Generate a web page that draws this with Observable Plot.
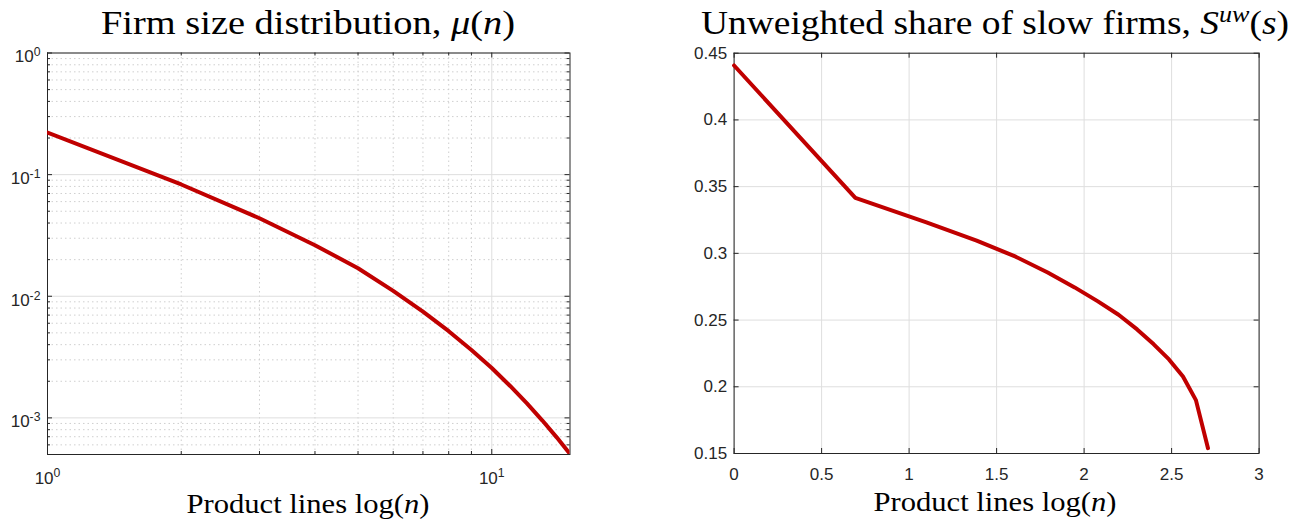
<!DOCTYPE html>
<html>
<head>
<meta charset="utf-8">
<script src="https://cdn.jsdelivr.net/npm/d3@7"></script>
<script src="https://cdn.jsdelivr.net/npm/@observablehq/plot@0.6"></script>
<style>
  html, body { margin: 0; padding: 0; background: #fff; }
  #wrap { position: relative; width: 1305px; height: 522px; overflow: hidden; background: #fff; }
  #wrap > div.panel { position: absolute; top: 0; }
  #labels { position: absolute; left: 0; top: 0; pointer-events: none; }
  .ttl { font-family: "Liberation Serif", "Times New Roman", serif; fill: #000; }
</style>
</head>
<body>
<div id="wrap">
  <div class="panel" id="left" style="left:0px"></div>
  <div class="panel" id="right" style="left:660px"></div>
  <svg id="labels" width="1305" height="522" xmlns="http://www.w3.org/2000/svg">
    <text class="ttl" x="308" y="34" text-anchor="middle" font-size="33" textLength="414" lengthAdjust="spacingAndGlyphs">Firm size distribution, <tspan font-style="italic">μ</tspan>(<tspan font-style="italic">n</tspan>)</text>
    <text class="ttl" x="995" y="34" text-anchor="middle" font-size="33" textLength="588" lengthAdjust="spacingAndGlyphs">Unweighted share of slow firms, <tspan font-style="italic">S</tspan><tspan font-style="italic" font-size="23" dy="-12">uw</tspan><tspan dy="12">(</tspan><tspan font-style="italic">s</tspan>)</text>
    <text class="ttl" x="308" y="513" text-anchor="middle" font-size="28" textLength="243" lengthAdjust="spacingAndGlyphs">Product lines log(<tspan font-style="italic">n</tspan>)</text>
    <text class="ttl" x="995" y="511" text-anchor="middle" font-size="28" textLength="243" lengthAdjust="spacingAndGlyphs">Product lines log(<tspan font-style="italic">n</tspan>)</text>
  </svg>
</div>
<script>
// ---------- data ----------
const productLines = [1, 2, 3, 4, 5, 6, 7, 8, 9, 10, 11, 12, 13, 14, 15];
const firmSizeDist = [0.222, 0.0830, 0.0438, 0.0263, 0.0170, 0.01107, 0.00747, 0.00516, 0.00362, 0.00257, 0.00183, 0.001315, 0.000951, 0.000692, 0.000505];
const logProductLines = [0, 0.693, 1.099, 1.386, 1.609, 1.792, 1.946, 2.079, 2.197, 2.303, 2.398, 2.485, 2.565, 2.639, 2.708];
const slowShare = [0.4408, 0.3415, 0.3232, 0.3095, 0.2975, 0.2857, 0.2745, 0.2640, 0.2540, 0.2430, 0.2318, 0.2205, 0.2077, 0.19, 0.154];

// tick values / labels
const leftXMajor = [1, 10];
const leftXMajorLabels = ["10^0", "10^1"];
const leftXMinor = [2, 3, 4, 5, 6, 7, 8, 9];
const leftYMajor = [0.001, 0.01, 0.1, 1];
const leftYMajorLabels = ["10^-3", "10^-2", "10^-1", "10^0"];
const leftYMinor = [0.0006, 0.0007, 0.0008, 0.0009, 0.002, 0.003, 0.004, 0.005, 0.006, 0.007, 0.008, 0.009,
                    0.02, 0.03, 0.04, 0.05, 0.06, 0.07, 0.08, 0.09, 0.2, 0.3, 0.4, 0.5, 0.6, 0.7, 0.8, 0.9];
const rightXTicks = [0, 0.5, 1, 1.5, 2, 2.5, 3];
const rightXTickLabels = ["0", "0.5", "1", "1.5", "2", "2.5", "3"];
const rightYTicks = [0.15, 0.2, 0.25, 0.3, 0.35, 0.4, 0.45];
const rightYTickLabels = ["0.15", "0.2", "0.25", "0.3", "0.35", "0.4", "0.45"];

// ---------- styling ----------
const LINE = "#c00000";
const AXIS = "#262626";
const GRID = "#dedede";
const MINOR = "#cfcfcf";
const TICKFONT = "17px 'Liberation Sans', Arial, Helvetica, sans-serif";

const leftData = productLines.map((n, i) => ({n, mu: firmSizeDist[i]}));
const rightData = logProductLines.map((x, i) => ({x, s: slowShare[i]}));

function inwardTicks(orient, values, len, plotW, plotH) {
  if (orient === "y") return [
    Plot.ruleY(values, {stroke: AXIS, strokeWidth: 1, insetRight: plotW - len}),
    Plot.ruleY(values, {stroke: AXIS, strokeWidth: 1, insetLeft: plotW - len})
  ];
  return [
    Plot.ruleX(values, {stroke: AXIS, strokeWidth: 1, insetTop: plotH - len}),
    Plot.ruleX(values, {stroke: AXIS, strokeWidth: 1, insetBottom: plotH - len})
  ];
}

// ---------- left panel ----------
{
  const W = 620, H = 522, mL = 47, mR = 50.5, mT = 52.5, mB = 68;
  const pW = W - mL - mR, pH = H - mT - mB;
  const chart = Plot.plot({
    width: W, height: H,
    marginLeft: mL, marginRight: mR, marginTop: mT, marginBottom: mB,
    style: {font: TICKFONT, color: AXIS, background: "transparent"},
    x: {type: "log", domain: [1, 15]},
    y: {type: "log", domain: [0.0005, 1]},
    marks: [
      Plot.ruleX(leftXMinor, {stroke: MINOR, strokeDasharray: "1.5,3", strokeWidth: 1}),
      Plot.ruleY(leftYMinor, {stroke: MINOR, strokeDasharray: "1.5,3", strokeWidth: 1}),
      Plot.ruleX(leftXMajor, {stroke: GRID, strokeWidth: 1}),
      Plot.ruleY(leftYMajor, {stroke: GRID, strokeWidth: 1}),
      ...inwardTicks("x", leftXMinor, 3, pW, pH),
      ...inwardTicks("y", leftYMinor, 3, pW, pH),
      ...inwardTicks("x", leftXMajor, 5, pW, pH),
      ...inwardTicks("y", leftYMajor, 5, pW, pH),
      Plot.frame({stroke: AXIS, strokeWidth: 1}),
      Plot.line(leftData, {x: "n", y: "mu", stroke: LINE, strokeWidth: 4, strokeLinejoin: "round", clip: true}),
      Plot.axisX({ticks: leftXMajor, tickSize: 0, tickPadding: 17, label: null,
                  tickFormat: d => leftXMajorLabels[leftXMajor.indexOf(d)]}),
      Plot.axisY({ticks: leftYMajor, tickSize: 0, tickPadding: 7, label: null,
                  tickFormat: d => leftYMajorLabels[leftYMajor.indexOf(d)]})
    ]
  });
  document.getElementById("left").appendChild(chart);
  d3.select(chart).selectAll('g[aria-label$="tick label"] text').each(function() {
    const t = this.textContent;
    const [base, exp] = t.split("^");
    if (exp === undefined) return;
    const sel = d3.select(this);
    sel.text(null);
    sel.append("tspan").text(base);
    sel.append("tspan").attr("dy", "-0.5em").attr("font-size", "0.72em").text(exp);
  });
  d3.select(chart).selectAll('g[aria-label="y-axis tick label"] text').attr("transform", function() {
    return (this.getAttribute("transform") || "") + " translate(0,4)";
  });
}

// ---------- right panel ----------
{
  const W = 645, H = 522, mL = 73.6, mR = 46.4, mT = 52.7, mB = 69;
  const pW = W - mL - mR, pH = H - mT - mB;
  const chart = Plot.plot({
    width: W, height: H,
    marginLeft: mL, marginRight: mR, marginTop: mT, marginBottom: mB,
    style: {font: TICKFONT, color: AXIS, background: "transparent"},
    x: {domain: [0, 3]},
    y: {domain: [0.15, 0.45]},
    marks: [
      Plot.ruleX(rightXTicks, {stroke: GRID, strokeWidth: 1}),
      Plot.ruleY(rightYTicks, {stroke: GRID, strokeWidth: 1}),
      ...inwardTicks("x", rightXTicks, 5, pW, pH),
      ...inwardTicks("y", rightYTicks, 5, pW, pH),
      Plot.frame({stroke: AXIS, strokeWidth: 1}),
      Plot.line(rightData, {x: "x", y: "s", stroke: LINE, strokeWidth: 4, strokeLinejoin: "miter"}),
      Plot.axisX({ticks: rightXTicks, tickSize: 0, tickPadding: 14, label: null,
                  tickFormat: d => rightXTickLabels[rightXTicks.indexOf(d)]}),
      Plot.axisY({ticks: rightYTicks, tickSize: 0, tickPadding: 7, label: null,
                  tickFormat: d => rightYTickLabels[rightYTicks.indexOf(d)]})
    ]
  });
  document.getElementById("right").appendChild(chart);
}
</script>
</body>
</html>
